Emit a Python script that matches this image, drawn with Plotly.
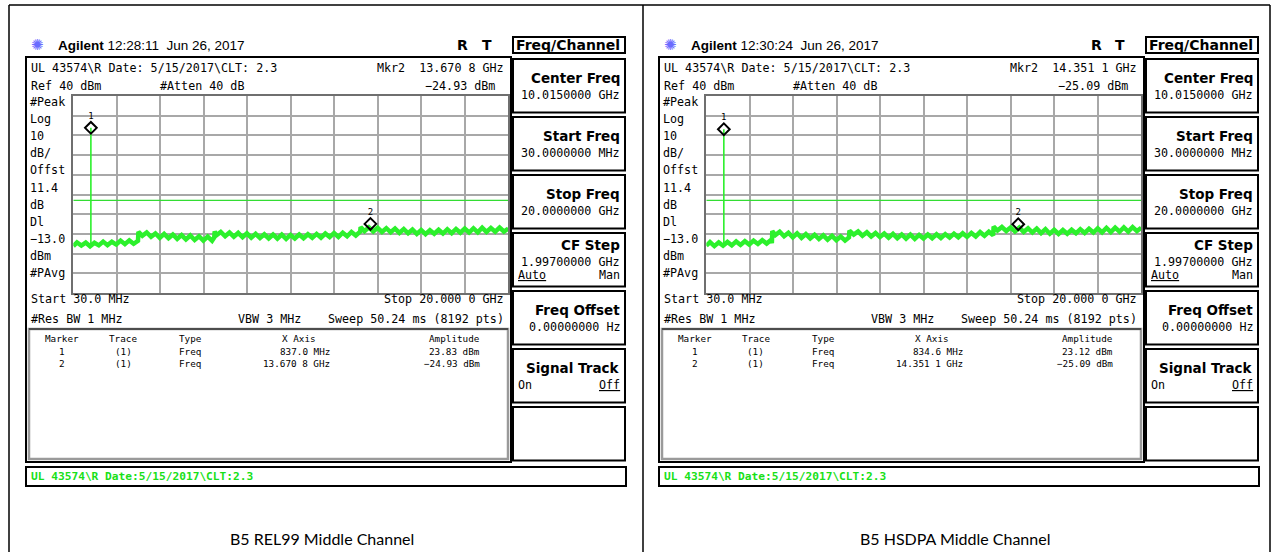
import plotly.graph_objects as go

W, H = 1277, 552

# ---------------- data ----------------
FREQ_REL99 = [0.03, 0.2, 0.4, 0.6, 0.8, 1.0, 1.2, 1.4, 1.6, 1.8, 2.0, 2.2, 2.4, 2.6, 2.8, 3.0,
              3.02, 3.2, 3.4, 3.6, 3.8, 4.0, 4.2, 4.4, 4.6, 4.8, 5.0, 5.2, 5.4, 5.6, 5.8, 6.0, 6.2, 6.4, 6.5,
              6.52, 6.6, 6.8, 7.0, 7.2, 7.4, 7.6, 7.8, 8.0, 8.2, 8.4, 8.6, 8.8, 9.0, 9.2, 9.4, 9.6, 9.8,
              10.0, 10.2, 10.4, 10.6, 10.8, 11.0, 11.2, 11.4, 11.6, 11.8, 12.0, 12.2, 12.4, 12.6, 12.8, 13.0, 13.2,
              13.22, 13.4, 13.6, 13.8, 14.0, 14.2, 14.4, 14.6, 14.8, 15.0, 15.2, 15.4, 15.6, 15.8, 16.0, 16.2,
              16.4, 16.6, 16.8, 17.0, 17.2, 17.4, 17.6, 17.8, 18.0, 18.2, 18.4, 18.6, 18.8, 19.0, 19.2, 19.4,
              19.6, 19.8, 20.0]
LEVEL_REL99 = [-36.2, -34.3, -35.9, -34.4, -36.3, -34.5, -35.8, -33.9, -35.7, -34.0, -35.4, -33.4, -35.2, -33.3, -35.0, -33.5,
               -29.0, -31.0, -29.3, -31.5, -29.8, -32.0, -30.0, -32.2, -30.3, -32.5, -30.6, -32.8, -30.8, -33.1, -31.2, -33.4, -31.4, -33.5, -31.8,
               -28.8, -30.7, -29.0, -31.2, -29.3, -31.4, -29.5, -31.7, -29.7, -31.9, -30.0, -32.1, -30.2, -32.3, -30.3, -32.4, -30.4, -32.5,
               -30.5, -32.3, -30.3, -32.2, -30.2, -32.0, -30.0, -31.9, -29.8, -31.6, -29.6, -31.5, -29.4, -31.2, -29.0, -30.8, -28.9,
               -26.6, -28.6, -26.7, -28.8, -26.9, -29.0, -27.1, -29.2, -27.3, -29.5, -27.5, -29.7, -27.8, -30.0, -28.0, -30.1,
               -28.1, -29.9, -27.9, -29.8, -27.7, -29.6, -27.5, -29.4, -27.3, -29.3, -27.2, -29.2, -26.9, -29.0, -27.0, -28.9,
               -26.8, -28.8, -27.3]

FREQ_HSDPA = [0.03, 0.2, 0.4, 0.6, 0.8, 1.0, 1.2, 1.4, 1.6, 1.8, 2.0, 2.2, 2.4, 2.6, 2.8, 3.0, 3.04,
              3.06, 3.2, 3.4, 3.6, 3.8, 4.0, 4.2, 4.4, 4.6, 4.8, 5.0, 5.2, 5.4, 5.6, 5.8, 6.0, 6.2, 6.4, 6.58,
              6.6, 6.8, 7.0, 7.2, 7.4, 7.6, 7.8, 8.0, 8.2, 8.4, 8.6, 8.8, 9.0, 9.2, 9.4, 9.6, 9.8,
              10.0, 10.2, 10.4, 10.6, 10.8, 11.0, 11.2, 11.4, 11.6, 11.8, 12.0, 12.2, 12.4, 12.6, 12.8, 13.0, 13.2,
              13.22, 13.4, 13.6, 13.8, 14.0, 14.2, 14.4, 14.6, 14.8, 15.0, 15.2, 15.4, 15.6, 15.8, 16.0, 16.2,
              16.4, 16.6, 16.8, 17.0, 17.2, 17.4, 17.6, 17.8, 18.0, 18.2, 18.4, 18.6, 18.8, 19.0, 19.2, 19.4,
              19.6, 19.8, 20.0]
LEVEL_HSDPA = [-36.0, -34.2, -36.2, -34.3, -36.0, -34.1, -35.8, -33.8, -35.6, -33.7, -35.4, -33.4, -35.1, -33.2, -34.9, -33.1, -34.7,
               -28.6, -30.6, -28.9, -31.2, -29.4, -31.7, -29.7, -32.0, -30.1, -32.3, -30.4, -32.6, -30.7, -32.9, -31.0, -33.2, -31.3, -33.4, -31.8,
               -28.4, -30.4, -28.8, -30.9, -29.2, -31.3, -29.5, -31.6, -29.8, -31.9, -30.0, -32.2, -30.3, -32.4, -30.4, -32.5, -30.5,
               -32.3, -30.3, -32.2, -30.2, -32.1, -30.1, -31.9, -29.9, -31.7, -29.7, -31.5, -29.5, -31.3, -29.1, -30.9, -28.9, -30.7,
               -26.3, -28.3, -26.5, -28.5, -26.7, -28.8, -26.8, -29.0, -27.1, -29.3, -27.3, -29.6, -27.6, -29.9, -27.9, -30.0,
               -28.0, -29.9, -27.9, -29.7, -27.6, -29.5, -27.4, -29.3, -27.2, -29.2, -27.0, -29.1, -26.8, -28.9, -26.7, -28.8,
               -26.6, -28.6, -26.9]

MARKER_FREQ_GHZ = [[0.837, 13.6708], [0.8346, 14.3511]]
MARKER_AMP_DBM = [[23.83, -24.93], [23.12, -25.09]]
SPIKE_BASE_DBM = [-35.0, -35.0]
DISPLAY_LINE_DBM = -13.0
START_GHZ, STOP_GHZ = 0.03, 20.0
REF_DBM, DB_PER_DIV = 40, 10

TIMES = ["12:28:11", "12:30:24"]
MKR2_FREQ_TXT = ["13.670 8 GHz", "14.351 1 GHz"]
MKR2_AMP_TXT = ["\u221224.93 dBm", "\u221225.09 dBm"]
TABLE_X = [["837.0 MHz", "13.670 8 GHz"], ["834.6 MHz", "14.351 1 GHz"]]
TABLE_AMP = [["23.83 dBm", "\u221224.93 dBm"], ["23.12 dBm", "\u221225.09 dBm"]]
CAPTIONS = ["B5 REL99 Middle Channel", "B5 HSDPA Middle Channel"]
LEFT_LABELS = ["#Peak", "Log", "10", "dB/", "Offst", "11.4", "dB", "Dl", "\u221213.0", "dBm", "#PAvg"]
SOFTKEYS = [("Center Freq", "10.0150000 GHz"), ("Start Freq", "30.0000000 MHz"),
            ("Stop Freq", "20.0000000 GHz"), ("CF Step", "1.99700000 GHz"),
            ("Freq Offset", "0.00000000 Hz"), ("Signal Track", None), ("", None)]

FREQS = [FREQ_REL99, FREQ_HSDPA]
LEVELS = [LEVEL_REL99, LEVEL_HSDPA]

# ---------------- style ----------------
GREEN = "#2cf02c"
DLGREEN = "#33dd33"
MONO = "DejaVu Sans Mono"
SANS = "Liberation Sans"
BOLD = "DejaVu Sans"
PANEL_DX = [0, 633]
NB = "\u00a0"
FS = 11.7


def X(p):
    return p / W


def Y(p):
    return 1 - p / H


fig = go.Figure()
annotations = []
shapes = []


def ann(x, y, text, size=FS, family=MONO, color="black", xanchor="left"):
    annotations.append(dict(x=X(x), y=Y(y), xref="paper", yref="paper", text=text,
                            showarrow=False, xanchor=xanchor, yanchor="middle",
                            font=dict(size=size, family=family, color=color)))


def rect(x0, y0, x1, y1, color="black", width=1.5):
    shapes.append(dict(type="rect", xref="paper", yref="paper", x0=X(x0), x1=X(x1),
                       y0=Y(y1), y1=Y(y0), line=dict(color=color, width=width)))


def line(x0, y0, x1, y1, color="black", width=1.5):
    shapes.append(dict(type="line", xref="paper", yref="paper", x0=X(x0), x1=X(x1),
                       y0=Y(y0), y1=Y(y1), line=dict(color=color, width=width)))


# outer frame
line(9, 5, 1270, 5)
line(9, 5, 9, 552)
line(643, 5, 643, 552)
line(1270, 5, 1270, 552)

layout_axes = {}
for i in range(2):
    dx = PANEL_DX[i]
    xa = "x" if i == 0 else "x2"
    ya = "y" if i == 0 else "y2"
    f1, f2 = MARKER_FREQ_GHZ[i]
    a1, a2 = MARKER_AMP_DBM[i]

    fig.add_trace(go.Scatter(x=[START_GHZ, STOP_GHZ], y=[DISPLAY_LINE_DBM, DISPLAY_LINE_DBM],
                             mode="lines", line=dict(color=DLGREEN, width=1.3),
                             xaxis=xa, yaxis=ya, hoverinfo="skip", showlegend=False))
    fig.add_trace(go.Scatter(x=FREQS[i], y=LEVELS[i], mode="lines",
                             line=dict(color=GREEN, width=4.5),
                             xaxis=xa, yaxis=ya, hoverinfo="skip", showlegend=False))
    fig.add_trace(go.Scatter(x=[f1, f1], y=[SPIKE_BASE_DBM[i], a1], mode="lines",
                             line=dict(color=GREEN, width=1.6),
                             xaxis=xa, yaxis=ya, hoverinfo="skip", showlegend=False))
    fig.add_trace(go.Scatter(x=[f1, f2], y=[a1, a2], mode="markers+text", text=["1", "2"],
                             textposition="top center",
                             textfont=dict(size=9, family=MONO, color="black"),
                             marker=dict(symbol="diamond-open", size=9, color="black",
                                         line=dict(width=2, color="black")),
                             xaxis=xa, yaxis=ya, hoverinfo="skip", showlegend=False))

    axcommon = dict(showgrid=True, gridcolor="#a8a8a8", gridwidth=1.5, showticklabels=False,
                    ticks="", zeroline=False, showline=True, linecolor="#6f6f6f", linewidth=2,
                    mirror=True, fixedrange=True)
    layout_axes["xaxis" if i == 0 else "xaxis2"] = dict(
        domain=[X(73.3 + dx), X(508.3 + dx)], range=[START_GHZ, STOP_GHZ],
        tick0=START_GHZ, dtick=(STOP_GHZ - START_GHZ) / 10, anchor=ya, **axcommon)
    layout_axes["yaxis" if i == 0 else "yaxis2"] = dict(
        domain=[Y(293), Y(96)], range=[REF_DBM - 10 * DB_PER_DIV, REF_DBM],
        tick0=REF_DBM - 10 * DB_PER_DIV, dtick=DB_PER_DIV, anchor=xa, **axcommon)

    # header
    ann(37 + dx, 45, "\u273a", size=15, family="DejaVu Sans", color="#6b6bff", xanchor="center")
    ann(56 + dx, 45, "<b>Agilent</b>" + NB + TIMES[i] + NB + NB + "Jun" + NB + "26," + NB + "2017",
        size=13.5, family=SANS)
    ann(463 + dx, 45, "<b>R</b>", size=14, family=BOLD, xanchor="center")
    ann(487 + dx, 45, "<b>T</b>", size=14, family=BOLD, xanchor="center")

    # screen box
    rect(26 + dx, 57, 511 + dx, 462, width=2)
    rect(29 + dx, 329, 508 + dx, 459, color="#9a9a9a", width=2.5)
    line(29 + dx, 329, 508 + dx, 329, color="black", width=1)

    ann(29 + dx, 68, "UL 43574\\R Date: 5/15/2017\\CLT: 2.3")
    ann(29 + dx, 86, "Ref 40 dBm")
    ann(158 + dx, 86, "#Atten 40 dB")
    ann(506 + dx, 68, "Mkr2" + NB + NB + MKR2_FREQ_TXT[i].replace(" ", NB), xanchor="right")
    ann(497 + dx, 86, MKR2_AMP_TXT[i].replace(" ", NB), xanchor="right")
    for k, lab in enumerate(LEFT_LABELS):
        ann(28 + dx, 102 + 17.1 * k, lab)

    ann(29 + dx, 299, "Start 30.0 MHz".replace(" ", NB))
    ann(506 + dx, 299, "Stop 20.000 0 GHz".replace(" ", NB), xanchor="right")
    ann(29 + dx, 319, "#Res BW 1 MHz".replace(" ", NB))
    ann(236 + dx, 319, "VBW 3 MHz".replace(" ", NB))
    ann(506 + dx, 319, "Sweep 50.24 ms (8192 pts)".replace(" ", NB), xanchor="right")

    ts = 9.3
    ann(62 + dx, 338, "Marker", size=ts, xanchor="center")
    ann(123 + dx, 338, "Trace", size=ts, xanchor="center")
    ann(177 + dx, 338, "Type", size=ts)
    ann(299 + dx, 338, "X Axis".replace(" ", NB), size=ts, xanchor="center")
    ann(482 + dx, 338, "Amplitude", size=ts, xanchor="right")
    for r in range(2):
        yy = 351 + 12 * r
        ann(62 + dx, yy, str(r + 1), size=ts, xanchor="center")
        ann(123 + dx, yy, "(1)", size=ts, xanchor="center")
        ann(177 + dx, yy, "Freq", size=ts)
        ann(332 + dx, yy, TABLE_X[i][r].replace(" ", NB), size=ts, xanchor="right")
        ann(482 + dx, yy, TABLE_AMP[i][r].replace(" ", NB), size=ts, xanchor="right")

    # softkeys
    rect(513 + dx, 37, 625 + dx, 53, width=2)
    ann(622 + dx, 45.5, "<b>Freq/Channel</b>", size=14, family=BOLD, xanchor="right")
    tops = [59, 117, 175, 233, 291, 349, 407]
    for k, (lab, val) in enumerate(SOFTKEYS):
        t = tops[k]
        rect(513 + dx, t, 625 + dx, t + 53.5, width=2)
        if not lab:
            continue
        if lab == "CF Step":
            ann(622 + dx, t + 12, "<b>" + lab.replace(" ", NB) + "</b>", size=13.5, family=BOLD, xanchor="right")
            ann(622 + dx, t + 29, val.replace(" ", NB), xanchor="right")
            ann(516 + dx, t + 42, "<u>Auto</u>")
            ann(622 + dx, t + 42, "Man", xanchor="right")
        elif lab == "Signal Track":
            ann(622 + dx, t + 19, "<b>" + lab.replace(" ", NB) + "</b>", size=13.5, family=BOLD, xanchor="right")
            ann(516 + dx, t + 36, "On")
            ann(622 + dx, t + 36, "<u>Off</u>", xanchor="right")
        else:
            ann(622 + dx, t + 19, "<b>" + lab.replace(" ", NB) + "</b>", size=13.5, family=BOLD, xanchor="right")
            ann(622 + dx, t + 36, val.replace(" ", NB), xanchor="right")

    # green status bar
    rect(26 + dx, 467, 626 + dx, 486, width=2)
    ann(29 + dx, 476.5, "<b>UL 43574\\R Date:5/15/2017\\CLT:2.3</b>", size=11.2, color="#18e018")

    # caption
    ann(322 + dx, 538, CAPTIONS[i], size=16, family="Lato", xanchor="center")

fig.update_layout(width=W, height=H, margin=dict(l=0, r=0, t=0, b=0),
                  paper_bgcolor="white", plot_bgcolor="white", showlegend=False,
                  annotations=annotations, shapes=shapes, **layout_axes)

fig.write_html("out.html", config={"displayModeBar": False},
               post_script="document.body.style.margin='0';")
